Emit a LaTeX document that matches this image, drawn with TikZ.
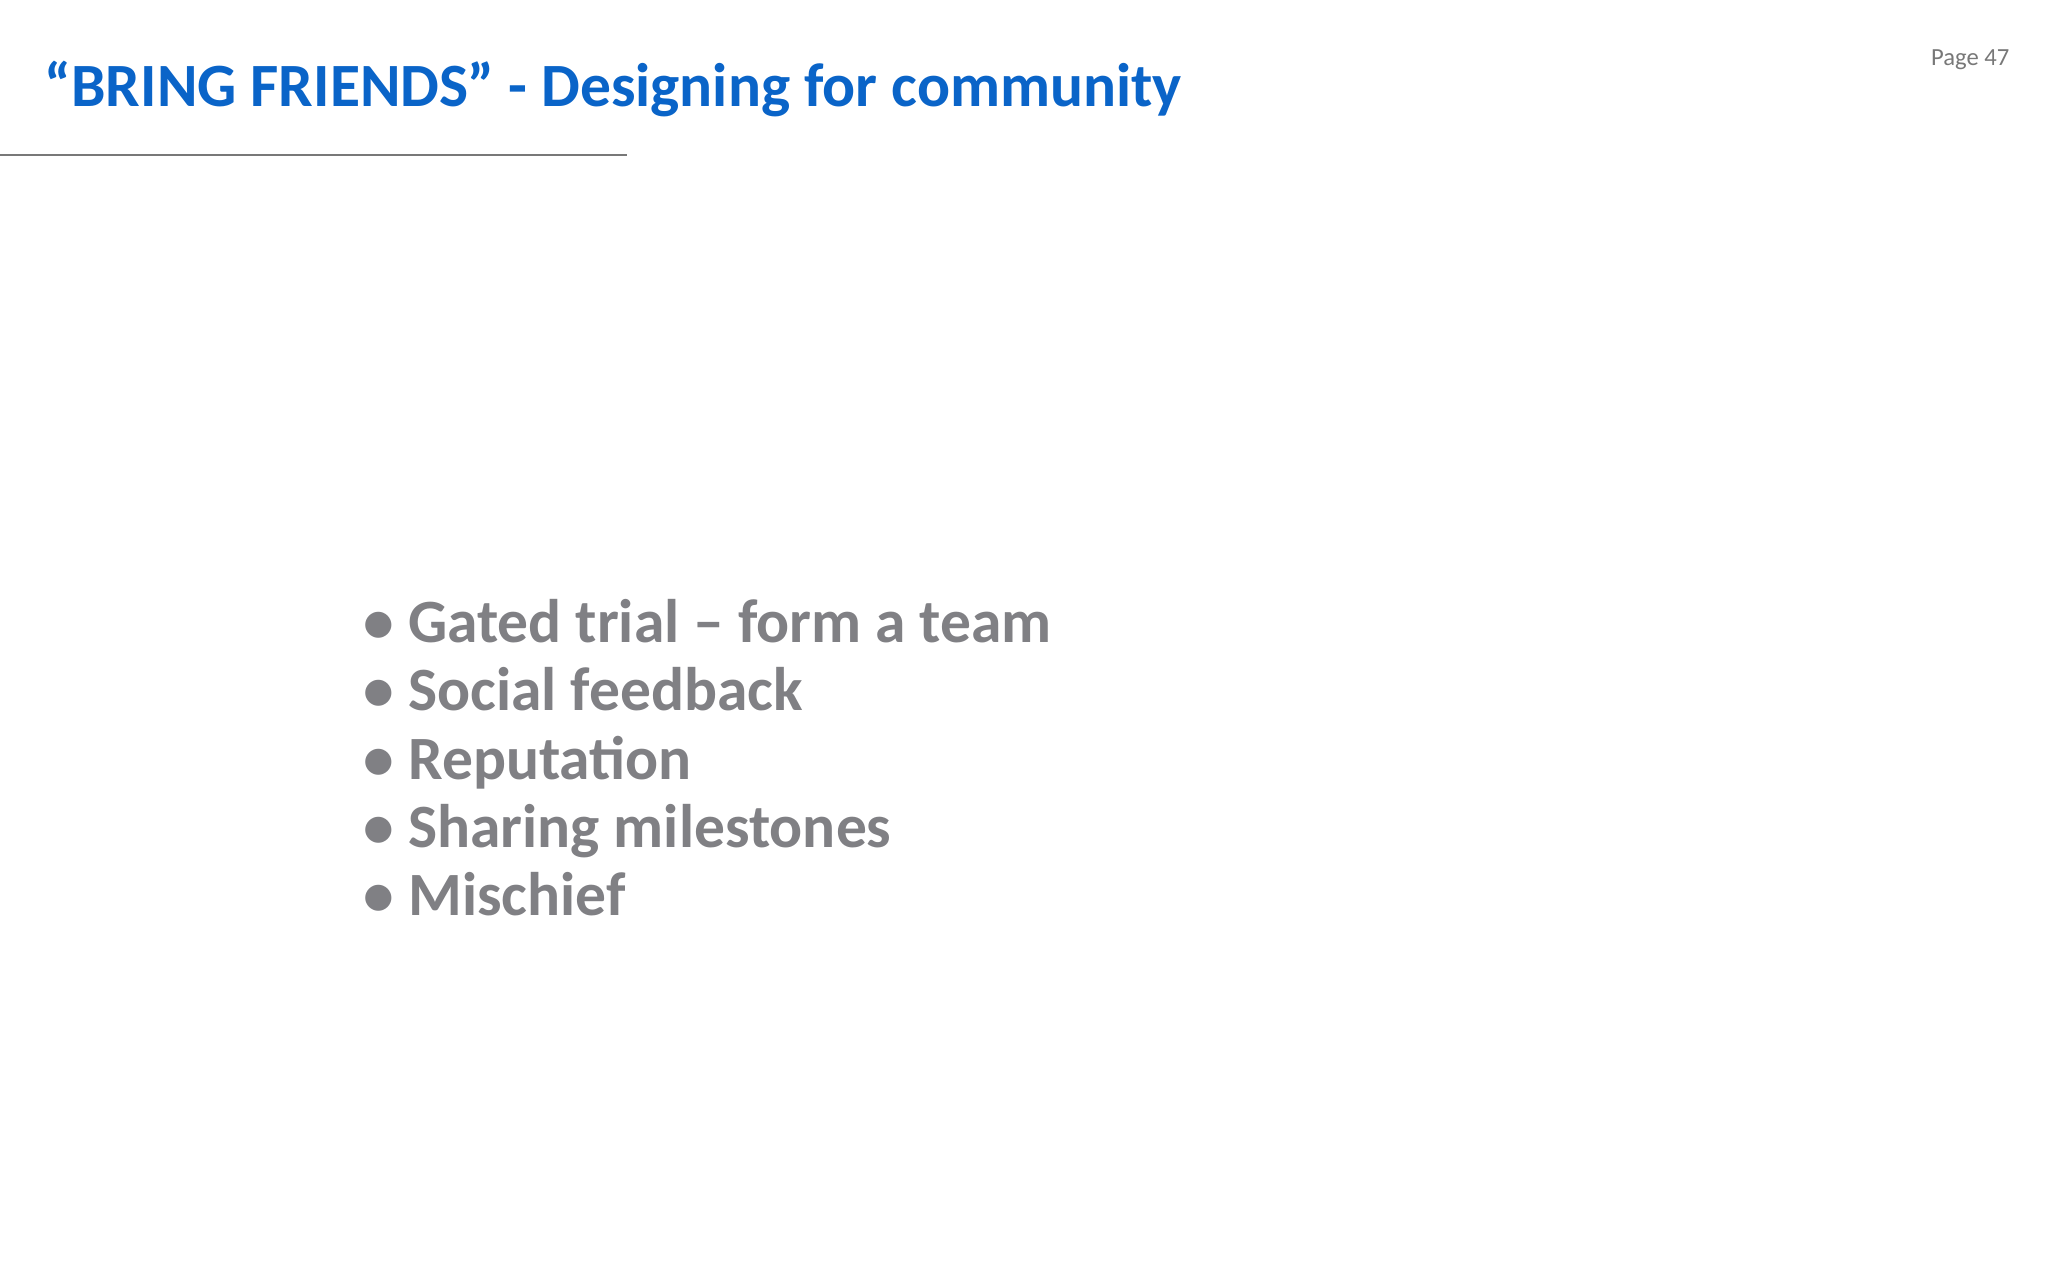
\documentclass[tikz,border=0pt]{standalone}
\usepackage{fontspec}
\setmainfont{Carlito}
\definecolor{titleblue}{RGB}{10,100,200}
\definecolor{bulletgray}{RGB}{128,128,132}
\definecolor{rulegray}{RGB}{120,120,120}
\begin{document}
\begin{tikzpicture}[x=0.01cm,y=-0.01cm,
  item/.style={anchor=base west,inner sep=0pt,text=bulletgray,font=\fontsize{17.5pt}{20pt}\selectfont\bfseries}]
\useasboundingbox (0,0) rectangle (2048,1280);
\node[anchor=base west,inner sep=0pt,text=titleblue,font=\fontsize{17.5pt}{20pt}\selectfont\bfseries] (title) at (44,107) {“BRING FRIENDS” - Designing for community};
\node[anchor=base east,inner sep=0pt,text=rulegray,font=\fontsize{7pt}{8pt}\selectfont] (page) at (2010,66) {Page 47};
\coordinate (l1) at (0,155);
\coordinate (l2) at (627,155);
\draw[rulegray,line width=0.6pt] (l1) -- (l2);
\node[item] (b1) at (363,643) {• Gated trial – form a team};
\node[item] (b2) at (363,711) {• Social feedback};
\node[item] (b3) at (363,780) {• Reputation};
\node[item] (b4) at (363,848) {• Sharing milestones};
\node[item] (b5) at (363,916) {• Mischief};
\end{tikzpicture}
\end{document}
